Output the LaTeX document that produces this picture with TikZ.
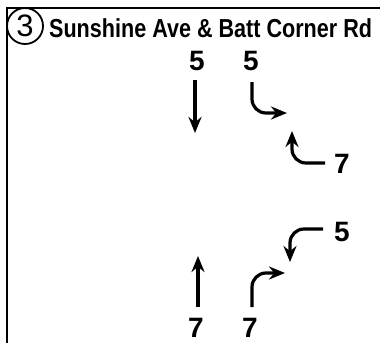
\documentclass[tikz,border=0pt]{standalone}
\usepackage{fontspec}
\setmainfont{Liberation Sans}
\usetikzlibrary{arrows.meta}

\begin{document}
\begin{tikzpicture}[x=1pt, y=-1pt,
    move/.style={line width=3.2pt, rounded corners=14pt, -{Stealth[length=16pt, width=13pt]}},
    vol/.style={font=\fontsize{28}{28}\selectfont\bfseries, inner sep=0pt}]
  \useasboundingbox (0,0) rectangle (380,343);
  % frame and heading
  \draw[line width=2.4pt] (7,343) -- (7,8) -- (380,8);
  \node[draw, circle, line width=1.8pt, minimum size=36pt, inner sep=0pt,
        font=\fontsize{31}{31}\selectfont] (num) at (25,26) {3};
  \node[anchor=base west, inner sep=0pt, xscale=0.83,
        font=\fontsize{26}{26}\selectfont\bfseries] (title) at (49,37) {Sunshine Ave \& Batt Corner Rd};
  % turning volumes
  \foreach \n/\x/\y/\v in {sbt/197/61/5, sbl/251/61/5, wbr/342/164/7,
                           wbl/342/232/5, nbt/196/328/7, nbr/250/328/7}
    \node[vol] (\n) at (\x,\y) {\v};
  % movement arrows
  \coordinate (sbt-a) at (195,80);  \coordinate (sbt-b) at (195,133);
  \coordinate (sbl-a) at (252,82);  \coordinate (sbl-c) at (252,113); \coordinate (sbl-b) at (287,113);
  \coordinate (wbr-a) at (325,163); \coordinate (wbr-c) at (292,163); \coordinate (wbr-b) at (292,131);
  \coordinate (wbl-a) at (323,229); \coordinate (wbl-c) at (290,229); \coordinate (wbl-b) at (290,262);
  \coordinate (nbt-a) at (198,307); \coordinate (nbt-b) at (198,256);
  \coordinate (nbr-a) at (252,307); \coordinate (nbr-c) at (252,273); \coordinate (nbr-b) at (285,273);
  \draw[move] (sbt-a) -- (sbt-b);
  \draw[move] (nbt-a) -- (nbt-b);
  \foreach \m in {sbl, wbr, wbl, nbr}
    \draw[move] (\m-a) -- (\m-c) -- (\m-b);
\end{tikzpicture}
\end{document}
